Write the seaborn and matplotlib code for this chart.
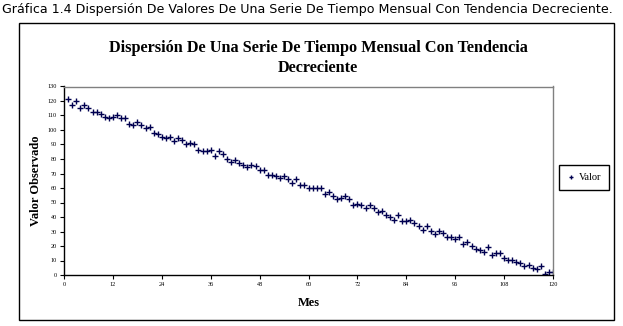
import matplotlib
matplotlib.use("Agg")
import matplotlib.pyplot as plt
import seaborn as sns
import pandas as pd
from matplotlib.patches import Rectangle

months = list(range(1, 121))
valor = [
    121.2, 117.0, 119.8, 115.2, 117.0, 115.2, 112.2, 112.2, 110.8, 109.0,
    108.0, 109.0, 110.1, 108.0, 108.0, 103.9, 103.2, 105.3, 103.3, 101.2,
    102.0, 97.7, 97.0, 95.0, 94.3, 95.0, 92.2, 94.3, 92.9, 90.1,
    90.8, 90.1, 86.0, 85.3, 85.3, 86.0, 81.9, 85.3, 83.2, 79.8,
    77.7, 79.1, 77.0, 75.7, 74.3, 75.7, 75.0, 72.2, 72.2, 68.8,
    68.8, 68.1, 66.7, 68.1, 66.0, 63.2, 66.0, 61.9, 61.9, 59.8,
    59.8, 59.8, 59.8, 55.7, 57.0, 54.3, 52.2, 52.9, 54.3, 52.2,
    48.1, 48.8, 48.1, 46.0, 48.1, 46.0, 43.2, 43.9, 41.2, 39.8,
    37.7, 41.2, 37.0, 37.0, 37.7, 35.7, 33.6, 30.8, 33.6, 30.1,
    28.1, 30.1, 28.8, 26.0, 26.0, 24.6, 26.0, 21.2, 22.6, 19.8,
    17.7, 17.0, 15.7, 19.1, 13.6, 15.0, 15.0, 11.5, 10.1, 10.1,
    8.8, 8.1, 6.0, 6.7, 4.6, 3.9, 6.0, 0.5, 1.9, 1.9,
]
x_ticks = list(range(0, 121, 12))
y_ticks = list(range(0, 131, 10))

heading = "Gráfica 1.4 Dispersión De Valores De Una Serie De Tiempo Mensual Con Tendencia Decreciente."
chart_title = "Dispersión De Una Serie De Tiempo Mensual Con Tendencia\nDecreciente"

df = pd.DataFrame({"Mes": months, "Valor": valor})

sns.set_theme(style="white")
plt.rcParams["font.family"] = ["DejaVu Sans"]
plt.rcParams["text.color"] = "black"
plt.rcParams["axes.labelcolor"] = "black"
plt.rcParams["xtick.color"] = "black"
plt.rcParams["ytick.color"] = "black"

W, H = 623, 326
fig = plt.figure(figsize=(W / 100, H / 100), dpi=100)
fig.patch.set_facecolor("white")

# outer chart frame
fig.patches.append(Rectangle((19 / W, 1 - 320 / H), (614 - 19) / W, (320 - 23) / H,
                             transform=fig.transFigure, fill=False,
                             edgecolor="black", linewidth=1.0))

ax = fig.add_axes([64 / W, 1 - 275 / H, (553 - 64) / W, (275 - 86.5) / H])
sns.scatterplot(data=df, x="Mes", y="Valor", marker="+", color="#000050",
                s=13, linewidth=1.0, ax=ax, label="Valor", legend=False)

ax.set_xlim(0, 120)
ax.set_ylim(0, 130)
ax.set_xticks(x_ticks)
ax.set_yticks(y_ticks)
ax.tick_params(axis="both", labelsize=4.5, length=3, width=0.8, direction="out",
               colors="black", pad=2, bottom=True, left=True)
for lab in ax.get_xticklabels() + ax.get_yticklabels():
    lab.set_fontfamily("Liberation Serif")
for s in ["left", "bottom"]:
    ax.spines[s].set_color("black")
    ax.spines[s].set_linewidth(1.0)
for s in ["top", "right"]:
    ax.spines[s].set_color("#808080")
    ax.spines[s].set_linewidth(1.0)

ax.set_xlabel("Mes", fontfamily="Liberation Serif", fontweight="bold", fontsize=9,
              labelpad=7, color="black")
ax.set_ylabel("Valor Observado", fontfamily="Liberation Serif", fontweight="bold", fontsize=9,
              labelpad=4, color="black")

fig.text(318 / W, 1 - 58 / H, chart_title, ha="center", va="center", color="black",
         fontfamily="Liberation Serif", fontweight="bold", fontsize=11.7, linespacing=1.35)

fig.text(2 / W, 1 - 9 / H, heading, ha="left", va="center", color="black",
         fontfamily="DejaVu Sans", fontsize=9.1)

# legend
h = ax.collections[0]
leg = fig.legend([h], ["Valor"], loc="center", bbox_to_anchor=(584 / W, 1 - 177.5 / H),
                 frameon=True, fancybox=False, edgecolor="black", framealpha=1,
                 prop={"family": "Liberation Serif", "size": 7.5}, handlelength=0.8,
                 handletextpad=0.4, borderpad=0.75, markerscale=0.7)
leg.get_frame().set_linewidth(1.0)
for t in leg.get_texts():
    t.set_color("black")

fig.savefig("out.png", dpi=100)
